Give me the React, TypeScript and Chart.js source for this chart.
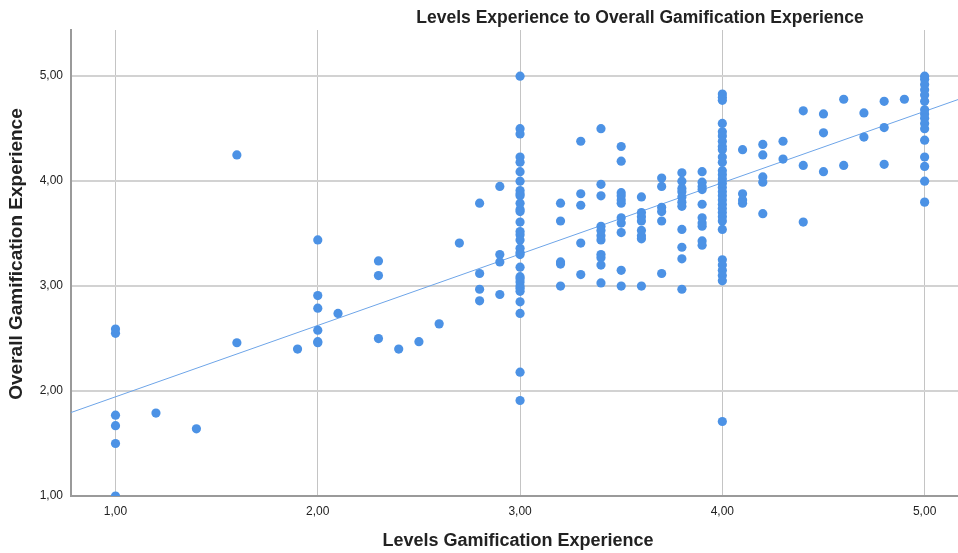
import React, { useEffect, useRef } from "react";
import { Chart, registerables } from "chart.js";

Chart.register(...registerables);

// Levels Gamification Experience score (x) for each column of respondents
const levelValues = [
  1.0, 1.2, 1.4, 1.6, 1.9, 2.0, 2.1, 2.3, 2.4, 2.5, 2.6, 2.7, 2.8, 2.9, 3.0,
  3.2, 3.3, 3.4, 3.5, 3.6, 3.7, 3.8, 3.9, 4.0, 4.1, 4.2, 4.3, 4.4, 4.5, 4.6,
  4.7, 4.8, 4.9, 5.0,
];

// Overall Gamification Experience scores of the respondents in each column
const overallByLevel: number[][] = [
  [2.59, 2.55, 1.77, 1.67, 1.5, 1.0],
  [1.79],
  [1.64],
  [4.25, 2.46],
  [2.4],
  [3.44, 2.91, 2.79, 2.58, 2.47, 2.46],
  [2.74],
  [3.24, 3.1, 2.5],
  [2.4],
  [2.47],
  [2.64],
  [3.41],
  [3.79, 3.12, 2.97, 2.86],
  [3.95, 3.3, 3.23, 2.92],
  [
    5.0, 4.5, 4.45, 4.23, 4.18, 4.09, 4.0, 3.91, 3.88, 3.86, 3.79, 3.73, 3.71,
    3.61, 3.52, 3.49, 3.44, 3.36, 3.32, 3.3, 3.18, 3.09, 3.07, 3.04, 3.0, 2.98,
    2.95, 2.85, 2.74, 2.18, 1.91,
  ],
  [3.79, 3.62, 3.23, 3.21, 3.0],
  [4.38, 3.88, 3.77, 3.41, 3.11],
  [4.5, 3.97, 3.86, 3.57, 3.53, 3.48, 3.44, 3.3, 3.27, 3.2, 3.03],
  [4.33, 4.19, 3.89, 3.86, 3.82, 3.79, 3.65, 3.6, 3.51, 3.15, 3.0],
  [3.85, 3.7, 3.66, 3.62, 3.53, 3.48, 3.45, 3.0],
  [4.03, 3.95, 3.75, 3.71, 3.62, 3.12],
  [4.08, 4.0, 3.93, 3.9, 3.85, 3.8, 3.76, 3.54, 3.37, 3.26, 2.97],
  [4.09, 3.99, 3.95, 3.92, 3.78, 3.65, 3.6, 3.57, 3.43, 3.39],
  [
    4.83, 4.8, 4.77, 4.55, 4.47, 4.43, 4.38, 4.33, 4.3, 4.23, 4.18, 4.1, 4.06,
    4.02, 3.98, 3.94, 3.9, 3.86, 3.82, 3.78, 3.74, 3.7, 3.66, 3.62, 3.54, 3.25,
    3.2, 3.15, 3.1, 3.05, 1.71,
  ],
  [4.3, 3.88, 3.82, 3.79],
  [4.35, 4.25, 4.04, 3.99, 3.69],
  [4.38, 4.21],
  [4.67, 4.15, 3.61],
  [4.64, 4.46, 4.09],
  [4.78, 4.15],
  [4.65, 4.42],
  [4.76, 4.51, 4.16],
  [4.78],
  [
    5.0, 4.97, 4.92, 4.87, 4.82, 4.76, 4.68, 4.64, 4.6, 4.55, 4.5, 4.39, 4.23,
    4.14, 4.0, 3.8,
  ],
];

// Fit line (overall = intercept + slope * levels) over all respondents
const fitIntercept = 1.265;
const fitSlope = 0.68;

const xTicks = [1, 2, 3, 4, 5];
const yTicks = [1, 2, 3, 4, 5];

const chartTitle = "Levels Experience to Overall Gamification Experience";
const xTitle = "Levels Gamification Experience";
const yTitle = "Overall Gamification Experience";

const X_MIN = 0.78;
const X_MAX = 5.165;
const Y_MIN = 1.0;
const Y_MAX = 5.44;

const pointColor = "rgb(76, 146, 229)";
const lineColor = "rgb(110, 165, 232)";
const fontFamily = "'Liberation Sans', Arial, sans-serif";

const fmt = (v: number) => v.toFixed(2).replace(".", ",");

const titlesPlugin = {
  id: "spssTitles",
  afterDraw(chart: any) {
    const { ctx, chartArea } = chart;
    ctx.save();
    ctx.fillStyle = "#222";
    ctx.textBaseline = "middle";
    ctx.textAlign = "center";
    ctx.font = `bold 17.5px ${fontFamily}`;
    ctx.fillText(chartTitle, 640, 18);
    ctx.font = `bold 18px ${fontFamily}`;
    ctx.fillText(xTitle, 518, 541);
    ctx.font = `bold 19px ${fontFamily}`;
    ctx.translate(17, (chartArea.top + chartArea.bottom) / 2 - 9);
    ctx.rotate(-Math.PI / 2);
    ctx.fillText(yTitle, 0, 0);
    ctx.restore();
  },
};

export default function App() {
  const canvasRef = useRef<HTMLCanvasElement | null>(null);

  useEffect(() => {
    document.body.style.margin = "0";
    const points: { x: number; y: number }[] = [];
    levelValues.forEach((lv, i) => {
      overallByLevel[i].forEach((ov) => points.push({ x: lv, y: ov }));
    });
    const linePts = [
      { x: X_MIN, y: fitIntercept + fitSlope * X_MIN },
      { x: X_MAX, y: fitIntercept + fitSlope * X_MAX },
    ];

    const chart = new Chart(canvasRef.current as HTMLCanvasElement, {
      type: "scatter",
      data: {
        datasets: [
          {
            type: "line",
            data: linePts,
            borderColor: lineColor,
            borderWidth: 1,
            pointRadius: 0,
            fill: false,
            order: 2,
          } as any,
          {
            data: points,
            backgroundColor: pointColor,
            borderColor: pointColor,
            borderWidth: 0,
            pointRadius: 4.6,
            order: 1,
          },
        ],
      },
      options: {
        animation: false,
        responsive: false,
        layout: {
          autoPadding: false,
          padding: { top: 30, left: 0, right: 0, bottom: 0 },
        },
        plugins: {
          legend: { display: false },
          title: { display: false },
          tooltip: { enabled: false },
        },
        scales: {
          x: {
            type: "linear",
            min: X_MIN,
            max: X_MAX,
            afterBuildTicks: (scale: any) => {
              scale.ticks = xTicks.map((v) => ({ value: v }));
            },
            afterFit: (scale: any) => {
              scale.height = 57;
            },
            ticks: {
              callback: (v: any) => fmt(Number(v)),
              color: "#222",
              font: { family: fontFamily, size: 12 },
              padding: 8,
              maxRotation: 0,
            },
            grid: {
              color: "#c4c4c4",
              lineWidth: 1,
              drawTicks: false,
            },
            border: { display: true, color: "#9a9a9a", width: 2 },
          },
          y: {
            type: "linear",
            min: Y_MIN,
            max: Y_MAX,
            afterBuildTicks: (scale: any) => {
              scale.ticks = yTicks.map((v) => ({ value: v }));
            },
            afterFit: (scale: any) => {
              scale.width = 71;
            },
            ticks: {
              callback: (v: any) => fmt(Number(v)),
              color: "#222",
              font: { family: fontFamily, size: 12 },
              padding: 8,
            },
            grid: {
              color: "#d2d2d2",
              lineWidth: 2,
              drawTicks: false,
            },
            border: { display: true, color: "#9a9a9a", width: 2 },
          },
        },
      },
      plugins: [titlesPlugin],
    });
    return () => chart.destroy();
  }, []);

  return (
    <div style={{ width: 958, height: 553, background: "#fff" }}>
      <canvas ref={canvasRef} width={958} height={553} />
    </div>
  );
}
